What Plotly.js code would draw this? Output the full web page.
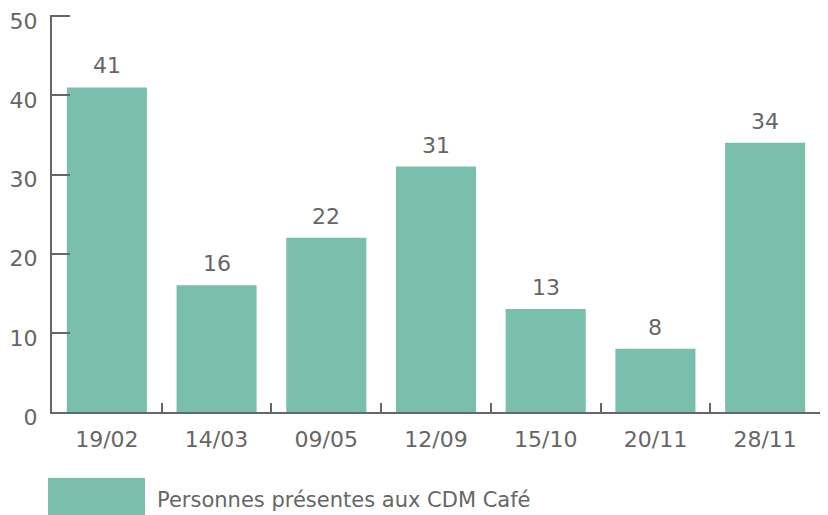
<!DOCTYPE html>
<html>
<head>
<meta charset="utf-8">
<script src="https://cdn.plot.ly/plotly-3.0.1.min.js"></script>
<style>html,body{margin:0;padding:0;background:#fff;}#chart{width:828px;height:515px;}</style>
</head>
<body>
<div id="chart"></div>
<script>
const categories = ["19/02", "14/03", "09/05", "12/09", "15/10", "20/11", "28/11"];
const values = [41, 16, 22, 31, 13, 8, 34];
const seriesName = "Personnes présentes aux CDM Café";
const yTicks = [0, 10, 20, 30, 40, 50];

const barColor = "#79BFAB";
const axisColor = "#666666";
const textColor = "#666666";
const fontFamily = "DejaVu Sans, sans-serif";

const W = 828, H = 515;
const margin = {l: 52, r: 8, t: 15, b: 103};
const plotW = W - margin.l - margin.r;
const plotH = H - margin.t - margin.b;

const trace = {
  type: "bar",
  x: categories,
  y: values,
  name: seriesName,
  marker: {color: barColor, line: {width: 0}},
  hoverinfo: "x+y"
};

const annotations = categories.map((c, i) => ({
  x: c, y: values[i], xref: "x", yref: "y",
  text: String(values[i]), showarrow: false,
  yanchor: "bottom", yshift: 7,
  font: {family: fontFamily, size: 22, color: textColor}
}));

// legend drawn manually (large swatch)
annotations.push({
  xref: "paper", yref: "paper",
  x: (155 - margin.l) / plotW, y: (margin.t + plotH - 500) / plotH,
  xanchor: "left", yanchor: "middle",
  text: seriesName, showarrow: false,
  font: {family: fontFamily, size: 21, color: textColor}
});

const shapes = [{
  type: "rect", xref: "paper", yref: "paper",
  x0: (48 - margin.l) / plotW, x1: (145 - margin.l) / plotW,
  y0: (margin.t + plotH - 520) / plotH, y1: (margin.t + plotH - 478) / plotH,
  fillcolor: barColor, line: {width: 0}
}];

const layout = {
  width: W, height: H,
  margin: margin,
  paper_bgcolor: "#ffffff",
  plot_bgcolor: "#ffffff",
  showlegend: false,
  bargap: 0.27,
  font: {family: fontFamily, size: 22, color: textColor},
  xaxis: {
    type: "category",
    showline: true, linecolor: axisColor, linewidth: 2,
    ticks: "inside", ticklen: 9, tickwidth: 2, tickcolor: axisColor,
    tickson: "boundaries",
    showgrid: false, zeroline: false,
    tickfont: {family: fontFamily, size: 22, color: textColor},
    ticklabelstandoff: 7
  },
  yaxis: {
    range: [0, 50.15],
    tickvals: yTicks,
    showline: true, linecolor: axisColor, linewidth: 2,
    ticks: "inside", ticklen: 18, tickwidth: 2, tickcolor: axisColor,
    showgrid: false, zeroline: false,
    tickfont: {family: fontFamily, size: 22, color: textColor},
    ticklabelstandoff: 8,
    ticklabelshift: 5
  },
  annotations: annotations,
  shapes: shapes
};

Plotly.newPlot("chart", [trace], layout, {displayModeBar: false, staticPlot: true});
</script>
</body>
</html>
